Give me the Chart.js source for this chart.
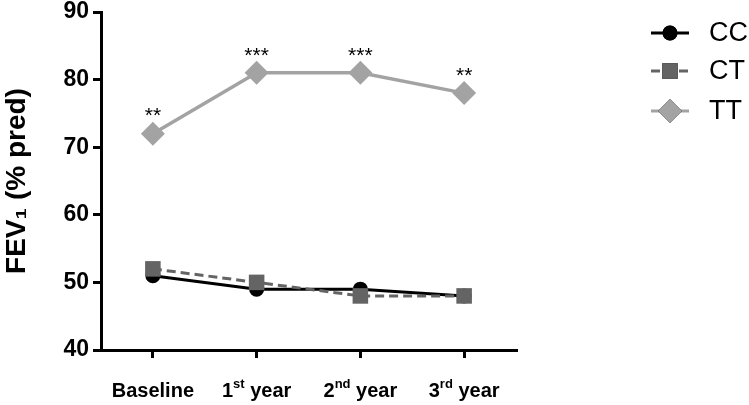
<!DOCTYPE html>
<html>
<head>
<meta charset="utf-8">
<script src="https://cdn.jsdelivr.net/npm/chart.js@4/dist/chart.umd.min.js"></script>
<style>
  html, body { margin: 0; padding: 0; background: #fff; }
  #wrap { width: 749px; height: 405px; position: relative; }
</style>
</head>
<body>
<div id="wrap"><canvas id="chart" width="749" height="405"></canvas></div>
<script>
// data
const categories = ['Baseline', '1st year', '2nd year', '3rd year'];
const ccValues = [51, 49, 49, 48];
const ctValues = [52, 50, 48, 48];
const ttValues = [72, 81, 81, 78];
const ttStars = ['**', '***', '***', '**'];
const yTicks = [40, 50, 60, 70, 80, 90];

const FONT = "'Liberation Sans', Arial, sans-serif";

// x labels with superscript ordinals
const xLabelPlugin = {
    id: 'xLabels',
    afterDraw(chart) {
        const ctx = chart.ctx;
        const xs = chart.scales.x;
        ctx.save();
        ctx.fillStyle = '#000';
        ctx.textBaseline = 'alphabetic';
        ctx.textAlign = 'left';
        categories.forEach((lab, i) => {
            const m = lab.match(/^(\d)(st|nd|rd|th) (.*)$/);
            const parts = m
                ? [[m[1], 20, 0], [m[2], 13, -9], [' ' + m[3], 20, 0]]
                : [[lab, 20, 0]];
            let w = 0;
            parts.forEach(p => {
                ctx.font = 'bold ' + p[1] + 'px ' + FONT;
                w += ctx.measureText(p[0]).width;
            });
            let x = xs.getPixelForValue(i) - w / 2;
            parts.forEach(p => {
                ctx.font = 'bold ' + p[1] + 'px ' + FONT;
                ctx.fillText(p[0], x, 397 + p[2]);
                x += ctx.measureText(p[0]).width;
            });
        });
        ctx.restore();
    }
};

// significance stars above TT points
const starPlugin = {
    id: 'stars',
    afterDatasetsDraw(chart) {
        const ctx = chart.ctx;
        const meta = chart.getDatasetMeta(2);
        ctx.save();
        ctx.fillStyle = '#000';
        ctx.font = '21px ' + FONT;
        ctx.textAlign = 'center';
        ctx.textBaseline = 'middle';
        meta.data.forEach((pt, i) => {
            ctx.fillText(ttStars[i], pt.x, pt.y - 17);
        });
        ctx.restore();
    }
};

// legend: line + marker + label
const legendPlugin = {
    id: 'sideLegend',
    afterDraw(chart) {
        const ctx = chart.ctx;
        const rows = [33, 71, 111];
        chart.data.datasets.forEach((ds, i) => {
            const y = rows[i];
            ctx.save();
            ctx.strokeStyle = ds.borderColor;
            ctx.lineWidth = 3;
            ctx.setLineDash(ds.borderDash || []);
            ctx.beginPath();
            ctx.moveTo(651, y);
            ctx.lineTo(689, y);
            ctx.stroke();
            ctx.setLineDash([]);
            Chart.helpers.drawPoint(ctx, {
                pointStyle: ds.pointStyle,
                radius: ds.pointRadius,
                borderWidth: 0
            }, 670, y);
            ctx.fillStyle = ds.pointBackgroundColor;
            ctx.fill();
            ctx.fillStyle = '#000';
            ctx.font = '27px ' + FONT;
            ctx.textBaseline = 'middle';
            ctx.fillText(ds.label, 709, y + 1);
            ctx.restore();
        });
    }
};

new Chart(document.getElementById('chart'), {
    type: 'line',
    data: {
        labels: categories,
        datasets: [
            {
                label: 'CC',
                data: ccValues,
                borderColor: '#000',
                backgroundColor: '#000',
                pointBackgroundColor: '#000',
                pointBorderWidth: 0,
                pointStyle: 'circle',
                pointRadius: 7.5,
                borderWidth: 3,
                order: 1
            },
            {
                label: 'CT',
                data: ctValues,
                borderColor: '#646464',
                backgroundColor: '#646464',
                pointBackgroundColor: '#646464',
                pointBorderWidth: 0,
                borderDash: [9, 5],
                pointStyle: 'rect',
                pointRadius: 11,
                borderWidth: 3,
                order: 0
            },
            {
                label: 'TT',
                data: ttValues,
                borderColor: '#a3a3a3',
                backgroundColor: '#a3a3a3',
                pointBackgroundColor: '#a3a3a3',
                pointBorderWidth: 0,
                pointStyle: 'rectRot',
                pointRadius: 12,
                borderWidth: 3.5,
                order: 2
            }
        ]
    },
    options: {
        responsive: false,
        animation: false,
        layout: { padding: { top: 10, right: 233, left: 0, bottom: 0 } },
        plugins: {
            legend: { display: false },
            tooltip: { enabled: false }
        },
        scales: {
            x: {
                offset: true,
                grid: { offset: false, drawOnChartArea: false, drawTicks: true, tickLength: 8, color: '#000', lineWidth: 3 },
                border: { display: true, color: '#000', width: 3 },
                ticks: { display: false },
                afterFit(scale) { scale.height = 55; scale.paddingLeft = 0; scale.paddingRight = 0; }
            },
            y: {
                min: yTicks[0],
                max: yTicks[yTicks.length - 1],
                afterBuildTicks(scale) { scale.ticks = yTicks.map(v => ({ value: v })); },
                grid: { drawOnChartArea: false, drawTicks: true, tickLength: 8, color: '#000', lineWidth: 3 },
                border: { display: true, color: '#000', width: 3 },
                ticks: { color: '#000', padding: 4, font: { family: FONT, size: 23, weight: 'bold' } },
                title: {
                    display: true,
                    text: 'FEV\u2081 (% pred)',
                    color: '#000',
                    font: { family: FONT, size: 28, weight: 'bold' },
                    padding: { top: 0, bottom: 0 }
                },
                afterFit(scale) { scale.width = 101; scale.paddingTop = 0; scale.paddingBottom = 0; }
            }
        }
    },
    plugins: [xLabelPlugin, starPlugin, legendPlugin]
});
</script>
</body>
</html>
